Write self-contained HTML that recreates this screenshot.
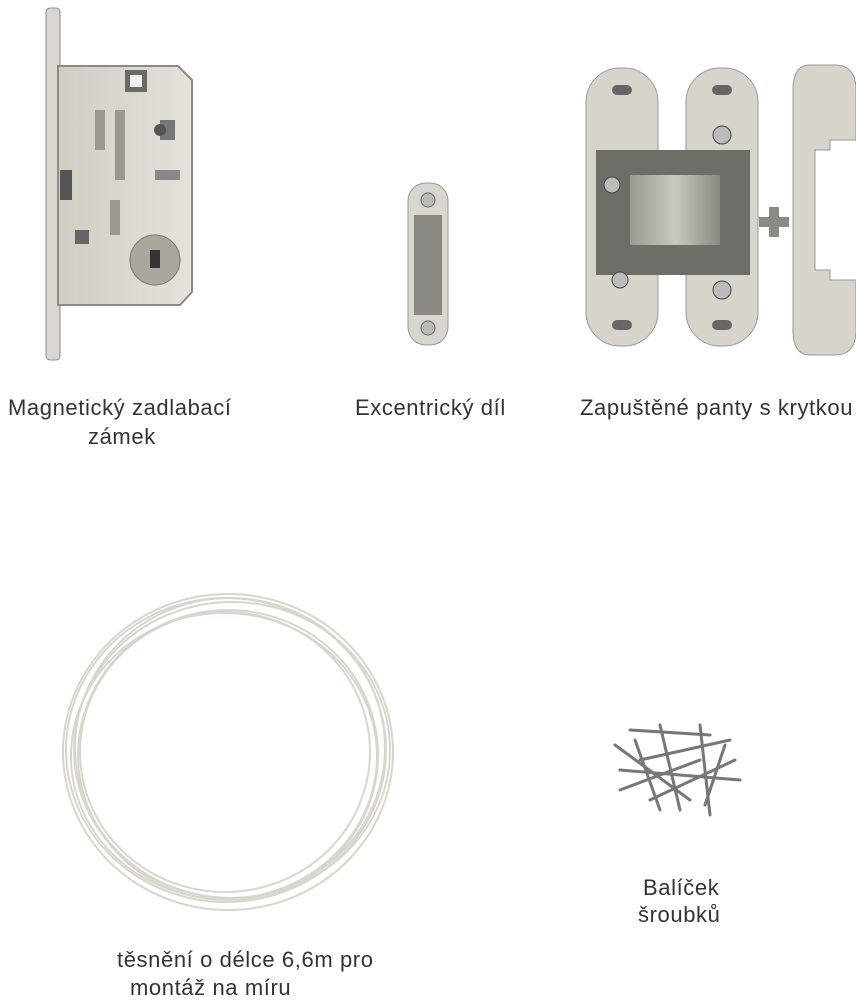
<!DOCTYPE html>
<html><head><meta charset="utf-8"><style>
html,body{margin:0;padding:0;background:#fff;}
body{width:856px;height:1000px;position:relative;overflow:hidden;font-family:"Liberation Sans","DejaVu Sans",sans-serif;color:#333;}
.t{position:absolute;font-size:22px;letter-spacing:0.6px;line-height:28px;white-space:nowrap;}
.a{position:absolute;}
</style></head><body>
<svg class="a" style="left:0;top:0" width="856" height="1000">
<defs>
<linearGradient id="g1" x1="0" x2="1"><stop offset="0" stop-color="#cfcdc4"/><stop offset="1" stop-color="#e4e2da"/></linearGradient>
<linearGradient id="g2" x1="0" x2="1"><stop offset="0" stop-color="#9a9a92"/><stop offset="0.5" stop-color="#c9c8c0"/><stop offset="1" stop-color="#8a8a84"/></linearGradient>
</defs>
<rect x="46" y="8" width="14" height="352" rx="4" fill="#d9d7cf" stroke="#8c8a82"/>
<path d="M58 66 H178 L192 80 V292 L180 305 H58 Z" fill="url(#g1)" stroke="#8c8a82" stroke-width="2"/>
<rect x="60" y="170" width="12" height="30" fill="#555"/>
<rect x="125" y="70" width="22" height="22" fill="#6a6a64"/>
<rect x="130" y="75" width="12" height="12" fill="#eee"/>
<rect x="95" y="110" width="10" height="40" fill="#9a988f"/>
<rect x="115" y="110" width="10" height="70" fill="#9a988f"/>
<rect x="160" y="120" width="15" height="20" fill="#777"/>
<rect x="155" y="170" width="25" height="10" fill="#888"/>
<rect x="75" y="230" width="14" height="14" fill="#666"/>
<rect x="110" y="200" width="10" height="35" fill="#9a988f"/>
<circle cx="155" cy="260" r="25" fill="#aaa79e" stroke="#777"/>
<rect x="150" y="250" width="10" height="18" fill="#333"/>
<circle cx="160" cy="130" r="6" fill="#555"/>
<rect x="408" y="183" width="40" height="162" rx="18" fill="#d8d6ce" stroke="#999"/>
<rect x="414" y="215" width="28" height="100" fill="#8a8883"/>
<circle cx="428" cy="200" r="7" fill="#bbb" stroke="#666"/>
<circle cx="428" cy="328" r="7" fill="#bbb" stroke="#666"/>
<rect x="586" y="68" width="72" height="278" rx="34" fill="#d6d4cb" stroke="#999"/>
<rect x="686" y="68" width="72" height="278" rx="34" fill="#d6d4cb" stroke="#999"/>
<rect x="596" y="150" width="154" height="125" fill="#6e6e68"/>
<rect x="630" y="175" width="90" height="70" fill="url(#g2)"/>
<circle cx="612" cy="185" r="8" fill="#bbb" stroke="#444"/>
<circle cx="722" cy="135" r="9" fill="#bbb" stroke="#444"/>
<circle cx="722" cy="290" r="9" fill="#bbb" stroke="#444"/>
<circle cx="620" cy="280" r="8" fill="#bbb" stroke="#444"/>
<rect x="612" y="85" width="20" height="10" rx="5" fill="#666"/>
<rect x="712" y="85" width="20" height="10" rx="5" fill="#666"/>
<rect x="612" y="320" width="20" height="10" rx="5" fill="#666"/>
<rect x="712" y="320" width="20" height="10" rx="5" fill="#666"/>
<rect x="759" y="217" width="30" height="10" fill="#8c8a85"/>
<rect x="769" y="207" width="10" height="30" fill="#8c8a85"/>
<path d="M810 65 H835 Q856 65 856 90 V140 H830 V150 H815 V270 H830 V280 H856 V330 Q856 355 835 355 H810 Q793 355 793 330 V90 Q793 65 810 65 Z" fill="#d6d4cb" stroke="#999"/>
<g fill="none" stroke="#d8d6cc" stroke-width="2">
<ellipse cx="228" cy="752" rx="165" ry="158"/>
<ellipse cx="226" cy="750" rx="160" ry="152"/>
<ellipse cx="230" cy="748" rx="155" ry="150"/>
<ellipse cx="228" cy="755" rx="150" ry="145"/>
<ellipse cx="225" cy="752" rx="145" ry="140"/>
<ellipse cx="232" cy="750" rx="158" ry="148"/>
<ellipse cx="224" cy="756" rx="153" ry="143"/>
</g>
<g stroke="#777" stroke-width="3" stroke-linecap="round">
<line x1="630" y1="730" x2="710" y2="735"/><line x1="615" y1="745" x2="690" y2="800"/>
<line x1="640" y1="760" x2="730" y2="740"/><line x1="620" y1="790" x2="700" y2="760"/>
<line x1="660" y1="725" x2="680" y2="810"/><line x1="700" y1="725" x2="710" y2="815"/>
<line x1="620" y1="770" x2="740" y2="780"/><line x1="650" y1="800" x2="735" y2="760"/>
<line x1="725" y1="745" x2="705" y2="805"/><line x1="635" y1="740" x2="660" y2="810"/>
</g>
</svg>
<div class="t" style="left:8px;top:394px">Magnetický zadlabací</div>
<div class="t" style="left:88px;top:423px">zámek</div>
<div class="t" style="left:355px;top:394px">Excentrický díl</div>
<div class="t" style="left:580px;top:394px">Zapuštěné panty s krytkou</div>
<div class="t" style="left:643px;top:874px">Balíček</div>
<div class="t" style="left:638px;top:901px">šroubků</div>
<div class="t" style="left:117px;top:946px">těsnění o délce 6,6m pro</div>
<div class="t" style="left:130px;top:974px">montáž na míru</div>
</body></html>
